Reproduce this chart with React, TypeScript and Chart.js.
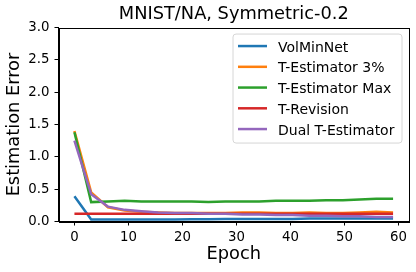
import React, { useEffect, useRef } from "react";
import { Chart, registerables } from "chart.js";

Chart.register(...registerables);

const epochs = [0, 3.1, 6.2, 9.3, 12.4, 15.5, 18.6, 21.7, 24.8, 27.9, 31.1, 34.2, 37.3, 40.4, 43.5, 46.6, 49.7, 52.8, 55.9, 59];
const volMinNet = [0.39, 0.03, 0.03, 0.03, 0.03, 0.03, 0.03, 0.035, 0.035, 0.04, 0.04, 0.04, 0.04, 0.04, 0.045, 0.045, 0.045, 0.045, 0.045, 0.045];
const tEst3 = [1.4, 0.45, 0.22, 0.17, 0.15, 0.14, 0.13, 0.13, 0.13, 0.13, 0.14, 0.14, 0.13, 0.13, 0.14, 0.13, 0.13, 0.14, 0.15, 0.14];
const tEstMax = [1.38, 0.3, 0.31, 0.32, 0.31, 0.31, 0.31, 0.31, 0.3, 0.31, 0.31, 0.31, 0.32, 0.32, 0.32, 0.33, 0.33, 0.34, 0.35, 0.35];
const tRevision = [0.12, 0.12, 0.12, 0.12, 0.12, 0.12, 0.12, 0.12, 0.12, 0.12, 0.12, 0.12, 0.12, 0.12, 0.12, 0.12, 0.12, 0.12, 0.12, 0.12];
const dualTEst = [1.25, 0.42, 0.23, 0.18, 0.16, 0.14, 0.13, 0.13, 0.12, 0.12, 0.11, 0.11, 0.1, 0.1, 0.09, 0.09, 0.08, 0.08, 0.07, 0.07];

const seriesNames = ["VolMinNet", "T-Estimator 3%", "T-Estimator Max", "T-Revision", "Dual T-Estimator"];
const seriesColors = ["#1f77b4", "#ff7f0e", "#2ca02c", "#d62728", "#9467bd"];
const xTicks = [0, 10, 20, 30, 40, 50, 60];
const titleText = "MNIST/NA, Symmetric-0.2";
const xTitle = "Epoch";
const yTitle = "Estimation Error";

const FONT = "'DejaVu Sans', sans-serif";

const framePlugin = {
  id: "frame",
  afterDraw(chart: any) {
    const { ctx, chartArea } = chart;
    ctx.save();
    ctx.strokeStyle = "#000";
    ctx.lineWidth = 1;
    ctx.strokeRect(
      Math.round(chartArea.left) + 0.5,
      Math.round(chartArea.top) + 0.5,
      Math.round(chartArea.right) - Math.round(chartArea.left),
      Math.round(chartArea.bottom) - Math.round(chartArea.top)
    );
    ctx.restore();
  },
};

const legendPlugin = {
  id: "innerLegend",
  afterDraw(chart: any) {
    const { ctx, chartArea } = chart;
    const right = chartArea.right - 7;
    const left = right - 169;
    const top = chartArea.top + 6.5;
    const height = 109;
    ctx.save();
    ctx.beginPath();
    const r = 3;
    ctx.moveTo(left + r, top);
    ctx.lineTo(right - r, top);
    ctx.arcTo(right, top, right, top + r, r);
    ctx.lineTo(right, top + height - r);
    ctx.arcTo(right, top + height, right - r, top + height, r);
    ctx.lineTo(left + r, top + height);
    ctx.arcTo(left, top + height, left, top + height - r, r);
    ctx.lineTo(left, top + r);
    ctx.arcTo(left, top, left + r, top, r);
    ctx.closePath();
    ctx.fillStyle = "rgba(255,255,255,0.8)";
    ctx.fill();
    ctx.strokeStyle = "#d6d6d6";
    ctx.lineWidth = 1;
    ctx.stroke();
    ctx.font = `14px ${FONT}`;
    ctx.textBaseline = "middle";
    ctx.textAlign = "left";
    chart.data.datasets.forEach((ds: any, i: number) => {
      const y = top + 12 + i * 20.75;
      ctx.strokeStyle = ds.borderColor;
      ctx.lineWidth = 2.5;
      ctx.beginPath();
      ctx.moveTo(left + 5, y);
      ctx.lineTo(left + 34, y);
      ctx.stroke();
      ctx.fillStyle = "#000";
      ctx.fillText(ds.label, left + 45, y + 1.8);
    });
    ctx.restore();
  },
};

export default function App() {
  const ref = useRef<HTMLCanvasElement | null>(null);
  useEffect(() => {
    if (!ref.current) return;
    const all = [volMinNet, tEst3, tEstMax, tRevision, dualTEst];
    const datasets = all.map((vals, i) => ({
      label: seriesNames[i],
      data: vals.map((v, j) => ({ x: epochs[j], y: v })),
      borderColor: seriesColors[i],
      backgroundColor: seriesColors[i],
      borderWidth: 2.5,
      pointRadius: 0,
      tension: 0,
      order: 4 - i,
    }));
    const chart = new Chart(ref.current, {
      type: "line",
      data: { datasets },
      plugins: [framePlugin, legendPlugin],
      options: {
        animation: false,
        responsive: false,
        layout: { padding: { left: 0, right: 7, top: 0, bottom: 0 } },
        plugins: {
          legend: { display: false },
          tooltip: { enabled: false },
          title: {
            display: true,
            text: titleText,
            fullSize: false,
            color: "#000",
            font: { family: FONT, size: 17.8, weight: "normal", lineHeight: 1.2 },
            padding: { top: 4, bottom: 2.2 },
          },
        },
        scales: {
          x: {
            type: "linear",
            min: -2.95,
            max: 61.95,
            afterBuildTicks: (axis: any) => {
              axis.ticks = xTicks.map((v) => ({ value: v }));
            },
            afterFit: (scale: any) => {
              scale.height = 50.5;
            },
            ticks: {
              color: "#000",
              font: { family: FONT, size: 13.3 },
              padding: 4,
              maxRotation: 0,
              autoSkip: false,
              callback: (v: any) => String(v),
            },
            grid: { drawOnChartArea: false, drawTicks: true, tickLength: 4, color: "#000" },
            border: { display: true, color: "#000", width: 1 },
            title: {
              display: true,
              text: xTitle,
              color: "#000",
              font: { family: FONT, size: 17.8, lineHeight: 1.2 },
              padding: { top: 0, bottom: 7.1 },
            },
          },
          y: {
            type: "linear",
            min: 0,
            max: 3,
            afterFit: (scale: any) => {
              scale.width = 58.5;
            },
            ticks: {
              stepSize: 0.5,
              color: "#000",
              font: { family: FONT, size: 13.3 },
              padding: 5,
              callback: (v: any) => Number(v).toFixed(1),
            },
            grid: { drawOnChartArea: false, drawTicks: true, tickLength: 4, color: "#000" },
            border: { display: true, color: "#000", width: 1 },
            title: {
              display: true,
              text: yTitle,
              color: "#000",
              font: { family: FONT, size: 17.8, lineHeight: 1.2 },
              padding: { top: 4, bottom: 0 },
            },
          },
        },
      },
    });
    return () => chart.destroy();
  }, []);
  return (
    <div style={{ position: "absolute", left: 0, top: 0, width: 416, height: 272, background: "#fff" }}>
      <canvas ref={ref} width={416} height={272} />
    </div>
  );
}
